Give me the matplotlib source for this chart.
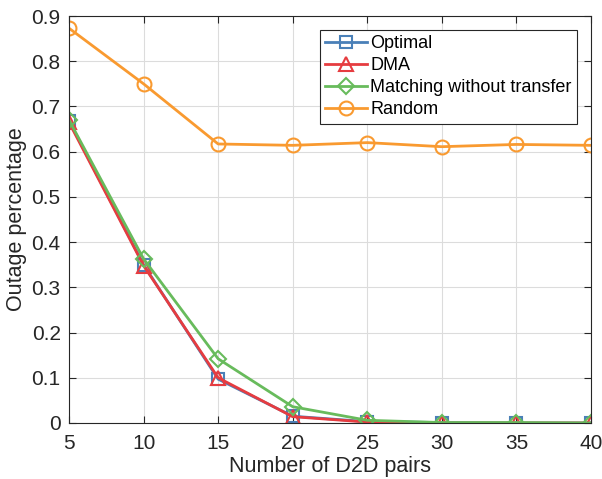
import matplotlib
matplotlib.use("Agg")
import matplotlib.pyplot as plt

plt.rcParams["font.family"] = ["Liberation Sans", "DejaVu Sans"]

# data
d2d_pairs = [5, 10, 15, 20, 25, 30, 35, 40]
optimal = [0.668, 0.350, 0.097, 0.015, 0.003, 0.001, 0.0, 0.0]
dma = [0.665, 0.348, 0.100, 0.014, 0.002, 0.0, 0.0, 0.0]
matching = [0.670, 0.363, 0.142, 0.036, 0.006, 0.001, 0.001, 0.0]
random_alloc = [0.873, 0.750, 0.617, 0.614, 0.620, 0.611, 0.616, 0.614]

fig = plt.figure(figsize=(6.02, 4.79), dpi=100)
ax = fig.add_axes([69 / 602, 1 - 423 / 479, (591 - 69) / 602, (423 - 16) / 479])

ax.plot(d2d_pairs, optimal, color="#4a80b8", marker="s", markersize=8,
        markerfacecolor="none", markeredgewidth=1.5, linewidth=2, label="Optimal")
ax.plot(d2d_pairs, dma, color="#e63c40", marker="^", markersize=10,
        markerfacecolor="none", markeredgewidth=1.5, linewidth=2, label="DMA")
ax.plot(d2d_pairs, matching, color="#68bb5c", marker="D", markersize=8,
        markerfacecolor="none", markeredgewidth=1.5, linewidth=2,
        label="Matching without transfer")
ax.plot(d2d_pairs, random_alloc, color="#f99a30", marker="o", markersize=10,
        markerfacecolor="none", markeredgewidth=1.5, linewidth=2, label="Random")

ax.set_xlim(5, 40)
ax.set_ylim(0, 0.9)
ax.set_xticks(d2d_pairs)
ax.set_yticks([i / 10 for i in range(10)])
ax.set_yticklabels(["0"] + [f"{i / 10:.1f}" for i in range(1, 10)])

ax.grid(True, color="#dcdcdc", linewidth=0.8)
ax.set_axisbelow(True)
ax.tick_params(direction="in", top=True, right=True, labelsize=15, length=5,
               color="#262626", labelcolor="#262626")
ax.tick_params(axis="x", pad=8)
ax.tick_params(axis="y", pad=6)
for s in ax.spines.values():
    s.set_color("#262626")
    s.set_linewidth(0.8)

ax.set_xlabel("Number of D2D pairs", fontsize=15.5, color="#262626", labelpad=2)
ax.set_ylabel("Outage percentage", fontsize=15.5, color="#262626", labelpad=3)

leg = ax.legend(loc="upper right", bbox_to_anchor=(0.98, 0.975), fontsize=13,
                fancybox=False, edgecolor="#262626", framealpha=1,
                handlelength=2.3, borderpad=0.3, labelspacing=0.28,
                handletextpad=0.2, borderaxespad=0.2)
leg.get_frame().set_linewidth(0.8)

fig.savefig("out.png", dpi=100)
